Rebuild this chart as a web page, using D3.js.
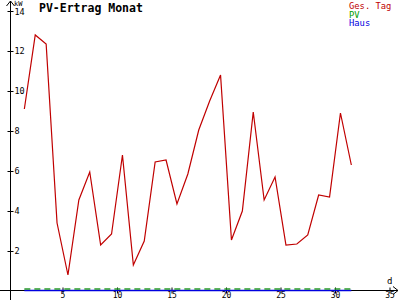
<!DOCTYPE html>
<html>
<head>
<meta charset="utf-8">
<script src="https://cdn.jsdelivr.net/npm/d3@7"></script>
<style>
  body { margin: 0; background: #fff; }
  svg { display: block; font-family: "DejaVu Sans Mono", monospace; }
</style>
</head>
<body>
<svg class="chart"></svg>
<script>
// daily values (kWh), plotted at the middle of each day
const days = d3.range(1, 32)
const gesTag = [9.1, 12.8, 12.35, 3.4, 0.8, 4.55, 5.95, 2.3, 2.85, 6.8,
                1.3, 2.5, 6.45, 6.55, 4.35, 5.85, 8.05, 9.5, 10.8, 2.55,
                4.0, 8.95, 4.55, 5.7, 2.3, 2.35, 2.8, 4.8, 4.7, 8.9, 6.3]
const pv = days.map(() => 0.1)
const haus = days.map(() => 0)
const xTicks = [5, 10, 15, 20, 25, 30, 35]
const yTicks = [2, 4, 6, 8, 10, 12, 14]

const width = 400
const height = 300

const svg = d3.select('svg.chart')
    .attr('width', width)
    .attr('height', height)

const x = d3.scaleLinear()
    .domain([0, 35])
    .range([8, 389.5])

const y = d3.scaleLinear()
    .domain([0, 14])
    .range([291, 11])

const axisX = 10
const axisY = y(0) - 0.5

// x axis
const gx = svg.append('g')
    .attr('transform', 'translate(0,' + axisY + ')')
    .call(d3.axisBottom(x).tickValues(xTicks).tickSize(3).tickPadding(-1))
gx.select('.domain').remove()
gx.selectAll('.tick line').attr('y1', -3).attr('stroke', '#000')
gx.selectAll('.tick text')
    .attr('font-size', 8)
    .attr('font-family', '"DejaVu Sans Mono", monospace')
gx.append('line')
    .attr('x1', 0).attr('x2', 398)
    .attr('stroke', '#000')
gx.append('path')
    .attr('d', 'M393,-4L398,0L393,4')
    .attr('fill', 'none')
    .attr('stroke', '#000')

// y axis
const gy = svg.append('g')
    .attr('transform', 'translate(' + (axisX + 0.5) + ',0)')
    .call(d3.axisRight(y).tickValues(yTicks).tickSize(3).tickPadding(1))
gy.select('.domain').remove()
gy.selectAll('.tick line').attr('x1', -3).attr('stroke', '#000')
gy.selectAll('.tick text')
    .attr('font-size', 8.5)
    .attr('font-family', '"DejaVu Sans Mono", monospace')
gy.selectAll('.tick text')
    .filter(d => d === 14)
    .attr('dy', '0.45em')
gy.append('line')
    .attr('y1', 1).attr('y2', 300)
    .attr('stroke', '#000')
gy.append('path')
    .attr('d', 'M-4,6L0,1L4,6')
    .attr('fill', 'none')
    .attr('stroke', '#000')

// axis units
svg.append('text')
    .attr('x', 14).attr('y', 6)
    .attr('font-size', 7)
    .text('kW')
svg.append('text')
    .attr('x', 387).attr('y', 284)
    .attr('font-size', 9)
    .text('d')

// title
svg.append('text')
    .attr('x', 39).attr('y', 12)
    .attr('font-size', 11.5)
    .attr('font-weight', 'bold')
    .text('PV-Ertrag Monat')

// legend
const legend = [
    { name: 'Ges. Tag', color: '#c00000' },
    { name: 'PV', color: '#00a000' },
    { name: 'Haus', color: '#0000e0' }
]
svg.selectAll('.legend')
    .data(legend)
    .enter()
    .append('text')
    .classed('legend', true)
    .attr('x', 349)
    .attr('y', (d, i) => 9 + i * 8.5)
    .attr('font-size', 8.8)
    .attr('fill', d => d.color)
    .text(d => d.name)

const line = d3.line()
    .x((d, i) => x(days[i] + 0.5))
    .y(d => y(d))

svg.append('path')
    .datum(haus)
    .attr('d', line)
    .attr('fill', 'none')
    .attr('stroke', '#0000e0')
    .attr('stroke-width', 1.5)
    .attr('transform', 'translate(0,-0.5)')

svg.append('path')
    .datum(pv)
    .attr('d', line)
    .attr('fill', 'none')
    .attr('stroke', '#2a9a2a')
    .attr('stroke-width', 1.5)
    .attr('stroke-dasharray', '6,4')

svg.append('path')
    .datum(gesTag)
    .attr('d', line)
    .attr('fill', 'none')
    .attr('stroke', '#c00000')
    .attr('stroke-width', 1.2)
</script>
</body>
</html>
